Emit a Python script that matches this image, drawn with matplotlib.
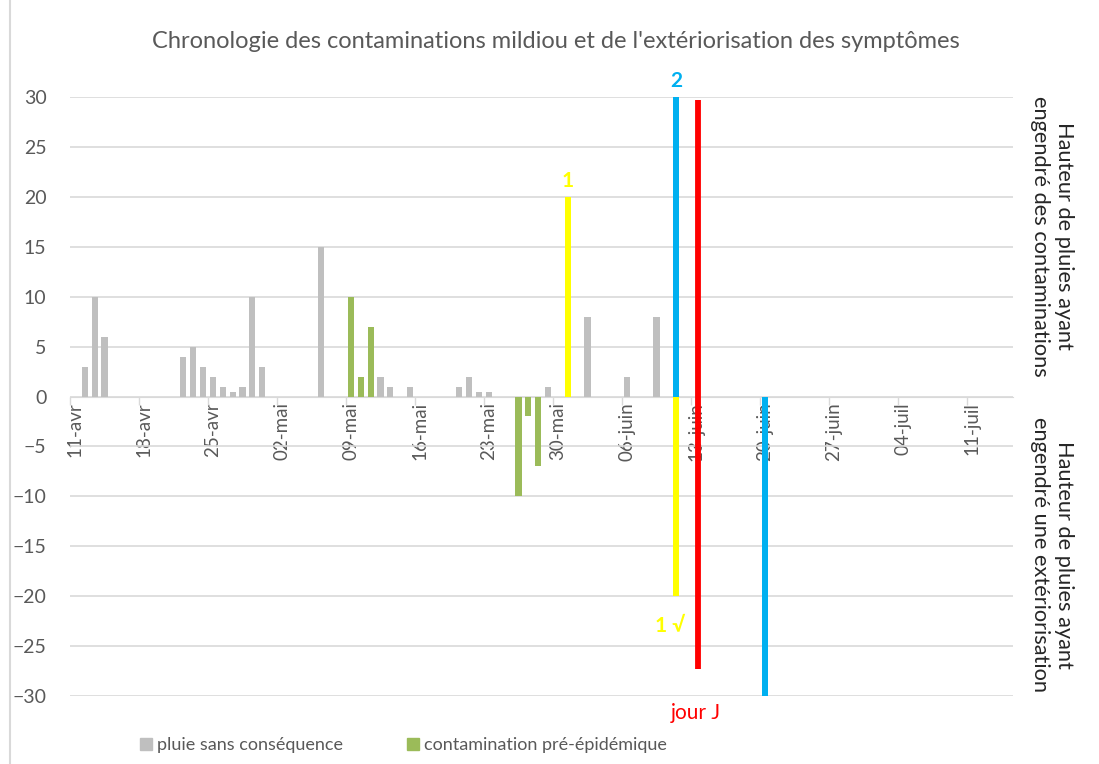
import matplotlib

matplotlib.use("Agg")
import matplotlib.dates as mdates
import matplotlib.pyplot as plt
import pandas as pd
from matplotlib.lines import Line2D

plt.rcParams["font.family"] = ["Lato", "DejaVu Sans"]

# pluie sans conséquence (mm)
gray_dates = ["2021-04-12", "2021-04-13", "2021-04-14", "2021-04-22", "2021-04-23",
              "2021-04-24", "2021-04-25", "2021-04-26", "2021-04-27", "2021-04-28",
              "2021-04-29", "2021-04-30", "2021-05-06", "2021-05-12", "2021-05-13",
              "2021-05-15", "2021-05-20", "2021-05-21", "2021-05-22", "2021-05-23",
              "2021-05-29", "2021-06-02", "2021-06-06", "2021-06-09"]
gray_values = [3, 10, 6, 4, 5, 3, 2, 1, 0.5, 1, 10, 3, 15, 2, 1, 1, 1, 2, 0.5, 0.5, 1, 8, 2, 8]

# contamination pré-épidémique (positive = pluie, négative = extériorisation)
green_dates = ["2021-05-09", "2021-05-10", "2021-05-11", "2021-05-26", "2021-05-27", "2021-05-28"]
green_values = [10, 2, 7, -10, -2, -7]

# contamination 1
yellow_dates = ["2021-05-31", "2021-06-11"]
yellow_values = [20, -20]

# contamination 2
blue_dates = ["2021-06-11", "2021-06-20"]
blue_values = [30, -30]

jour_j_date = "2021-06-13"
jour_j_top = 29.7
jour_j_bottom = -27.3

tick_dates = pd.date_range("2021-04-11", "2021-07-11", freq="7D")
MOIS = {4: "avr", 5: "mai", 6: "juin", 7: "juil"}
tick_labels = [f"{d.day:02d}-{MOIS[d.month]}" for d in tick_dates]

GRID = "#d9d9d9"
TEXT = "#595959"
W, H = 1099, 764


def to_num(dates):
    return mdates.date2num(pd.to_datetime(dates))


fig = plt.figure(figsize=(W / 100, H / 100), dpi=100)
ax = fig.add_axes([70 / W, 1 - 696 / H, (1013 - 70) / W, (696 - 97) / H])

# axis line at zero first: moving the spine resets the ticks
for side in ("top", "right", "left"):
    ax.spines[side].set_visible(False)
ax.spines["bottom"].set_position(("data", 0))
ax.spines["bottom"].set_color(GRID)
ax.spines["bottom"].set_zorder(1)

bw = 0.62
ax.bar(to_num(gray_dates), gray_values, width=bw, color="#bfbfbf", zorder=2)
ax.bar(to_num(green_dates), green_values, width=bw, color="#9bbb59", zorder=2)
ax.bar(to_num(yellow_dates), yellow_values, width=bw, color="#ffff00", zorder=2)
ax.bar(to_num(blue_dates), blue_values, width=bw, color="#00b0f0", zorder=3)

xj = to_num([jour_j_date])[0] + 0.2
ax.vlines(xj, jour_j_bottom, jour_j_top, color="#ff0000", linewidth=4.2, zorder=4)

# annotations
xy1 = to_num(yellow_dates)
xb = to_num(blue_dates)
ax.text(xy1[0], 20.6, "1", color="#ffff00", fontsize=15, fontweight="bold",
        ha="center", va="bottom")
ax.text(xb[0], 30.6, "2", color="#00b0f0", fontsize=15, fontweight="bold",
        ha="center", va="bottom")
ax.text(xy1[1] - 0.6, -23, "1 √", color="#ffff00", fontsize=15, fontweight="bold",
        ha="center", va="center")
ax.text(xj - 0.2, -31.7, "jour J", color="#ff0000", fontsize=15, ha="center", va="center")

t0 = to_num([tick_dates[0]])[0]
ax.set_xlim(t0 - 0.5, t0 - 0.5 + 95.67)
ax.set_ylim(-30, 30)
ax.set_yticks(range(-30, 31, 5))

ax.set_xticks(to_num(tick_dates))
ax.set_xticklabels(tick_labels)
ax.set_xticks(to_num(tick_dates) - 0.5, minor=True)
ax.tick_params(axis="x", which="major", length=0, pad=4, labelsize=13.5,
               labelcolor=TEXT, labelrotation=90)
ax.tick_params(axis="x", which="minor", length=6, color=GRID, width=1)
ax.tick_params(axis="y", length=0, pad=17, labelsize=14, labelcolor=TEXT)

ax.grid(axis="y", color=GRID, linewidth=1.2)
ax.set_axisbelow(True)

fig.text(0.506, 1 - 42 / H,
         "Chronologie des contaminations mildiou et de l'extériorisation des symptômes",
         ha="center", va="center", fontsize=17, color=TEXT)

fig.text(1052 / W, 1 - 96 / H, "Hauteur de pluies ayant\nengendré des contaminations",
         rotation=-90, ha="center", va="top", fontsize=15.7, color="#262626",
         linespacing=1.2)
fig.text(1052 / W, 1 - 417 / H, "Hauteur de pluies ayant\nengendré une extériorisation",
         rotation=-90, ha="center", va="top", fontsize=15.7, color="#262626",
         linespacing=1.2)

handles = [
    Line2D([0], [0], marker="s", linestyle="", color="#bfbfbf", markersize=9),
    Line2D([0], [0], marker="s", linestyle="", color="#9bbb59", markersize=9),
]
fig.legend(handles, ["pluie sans conséquence", "contamination pré-épidémique"],
           loc="center", bbox_to_anchor=(403 / W, 1 - 745 / H), ncol=2, frameon=False,
           fontsize=13, labelcolor=TEXT, handlelength=0.8, handletextpad=0.2,
           columnspacing=3.5)

fig.add_artist(Line2D([9.5 / W, 9.5 / W], [0, 1], color=GRID, linewidth=1.5,
                      transform=fig.transFigure))

fig.savefig("out.png", dpi=100)
